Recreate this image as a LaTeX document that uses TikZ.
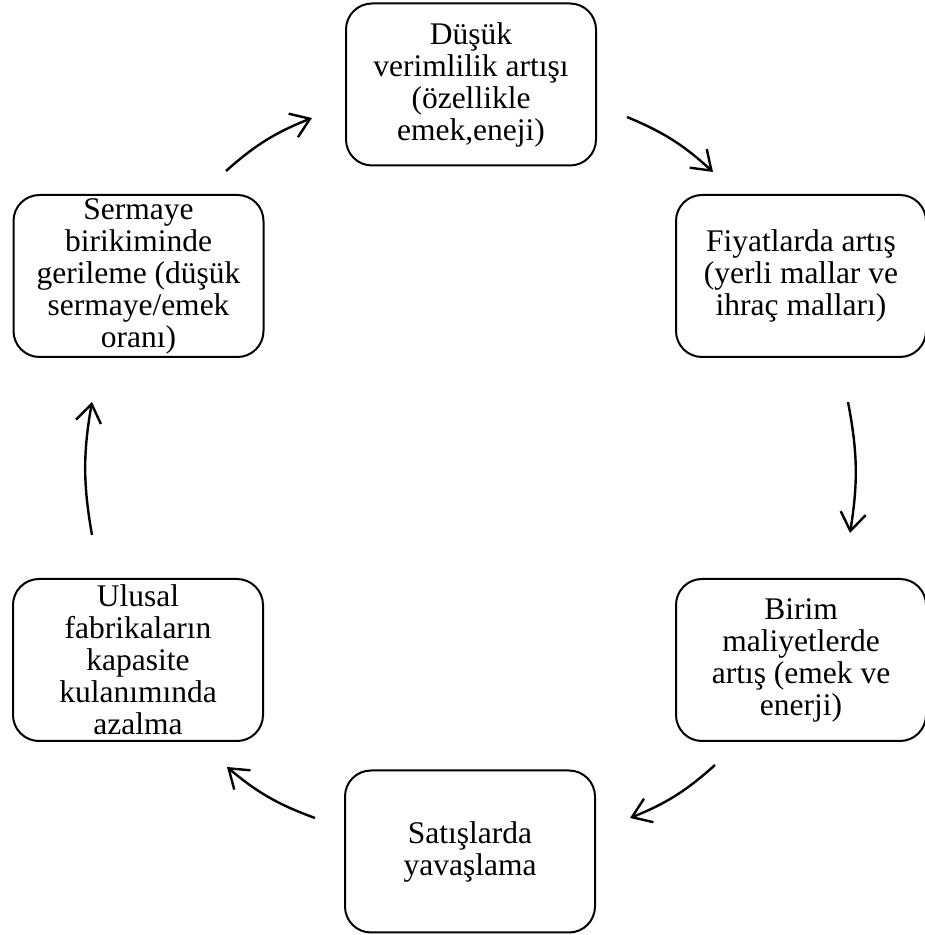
\documentclass[tikz,border=0pt]{standalone}
\usepackage{fontspec}
\setmainfont{Liberation Serif}
\usetikzlibrary{arrows.meta}
\begin{document}
\begin{tikzpicture}[x=1pt,y=1pt,
  box/.style={draw=black, line width=2pt, rounded corners=26pt, minimum width=250pt, minimum height=162pt,
    align=center, inner sep=0pt, font=\fontsize{31.5}{32}\selectfont},
  cyc/.style={line width=2.4pt, -{Straight Barb[angle=70:22pt]}, bend left=10}]
\useasboundingbox (0,0) rectangle (925,935);
\node[box] (t)  at (471,850.5) {Düşük\\verimlilik artışı\\(özellikle\\emek,eneji)};
\node[box] (rt) at (801,659) {Fiyatlarda artış\\(yerli mallar ve\\ihraç malları)};
\node[box] (rb) at (801,275) {Birim\\maliyetlerde\\artış (emek ve\\enerji)};
\node[box] (b)  at (470,83.5) {Satışlarda\\yavaşlama};
\node[box] (lb) at (138,275) {Ulusal\\fabrikaların\\kapasite\\kulanımında\\azalma};
\node[box] (lt) at (138.5,659) {Sermaye\\birikiminde\\gerileme (düşük\\sermaye/emek\\oranı)};
\coordinate (a1s) at (627,818); \coordinate (a1e) at (713,763);
\coordinate (a2s) at (848,533); \coordinate (a2e) at (850,402);
\coordinate (a3s) at (715,170); \coordinate (a3e) at (630,117);
\coordinate (a4s) at (315,117); \coordinate (a4e) at (227,168);
\coordinate (a5s) at (92,400);  \coordinate (a5e) at (92,533);
\coordinate (a6s) at (226,764); \coordinate (a6e) at (312,817);
\draw[cyc] (a1s) to (a1e);
\draw[cyc] (a2s) to (a2e);
\draw[cyc] (a3s) to (a3e);
\draw[cyc] (a4s) to (a4e);
\draw[cyc] (a5s) to (a5e);
\draw[cyc] (a6s) to (a6e);
\end{tikzpicture}
\end{document}
